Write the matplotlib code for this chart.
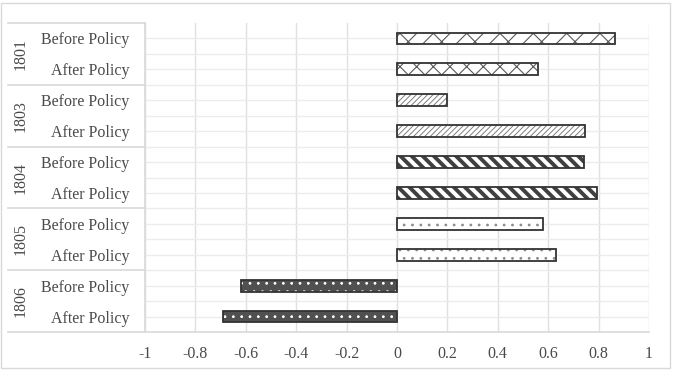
import matplotlib
matplotlib.use('Agg')
import matplotlib.pyplot as plt
from matplotlib.lines import Line2D
from matplotlib.patches import Rectangle

years = ['1801', '1803', '1804', '1805', '1806']
periods = ['Before Policy', 'After Policy']
before_vals = [0.867, 0.20, 0.741, 0.578, -0.621]
after_vals = [0.56, 0.746, 0.795, 0.63, -0.689]
x_ticks = [-1, -0.8, -0.6, -0.4, -0.2, 0, 0.2, 0.4, 0.6, 0.8, 1]
x_labels = ['-1', '-0.8', '-0.6', '-0.4', '-0.2', '0', '0.2', '0.4', '0.6', '0.8', '1']

# fill, hatch colour, hatch, hatch width per year
styles = [
    ('white', '#595959', '//\\', 0.8),
    ('white', '#7f7f7f', '//////', 0.7),
    ('white', '#404040', '\\\\\\', 2.8),
    ('white', '#8c8c8c', '..', 0.8),
    ('#505050', 'white', '..', 0.8),
]
after_hatch = ['xx', None, None, None, None]

plt.rcParams['font.family'] = ['Liberation Serif', 'DejaVu Serif']
W, H = 674, 370
fig = plt.figure(figsize=(W / 100, H / 100), dpi=100)
left, right, top, bottom = 145, 649, 23, 332
ax = fig.add_axes([left / W, 1 - bottom / H, (right - left) / W, (bottom - top) / H])

ax.set_xlim(-1, 1)
ax.set_ylim(0, 10)
for s in ax.spines.values():
    s.set_visible(False)

for v in x_ticks:
    ax.axvline(v, color='#e0e0e0', lw=1, zorder=0)
for k in range(1, 20):
    ax.axhline(k * 0.5, color='#ececec', lw=1, zorder=0)

bar_h = 0.38
ypos = []
ylab = []
for i, yr in enumerate(years):
    yb = 10 - (2 * i) - 0.5
    ya = yb - 1
    fill, hcol, hatch, hw = styles[i]
    for y, v, h in [(yb, before_vals[i], hatch), (ya, after_vals[i], after_hatch[i] or hatch)]:
        b = ax.barh(y, v, height=bar_h, color=fill, edgecolor=hcol, hatch=h, lw=0, zorder=2)
        for p in b:
            try:
                p.set_hatch_linewidth(hw)
            except AttributeError:
                pass
        ax.barh(y, v, height=bar_h, fill=False, edgecolor='#333333', lw=1.3, zorder=3)
    ypos += [yb, ya]
    ylab += periods
    # year label
    fig.text(21 / W, 1 - (top + (2 * i + 1) * (bottom - top) / 10) / H, yr,
             rotation=90, ha='center', va='center', fontsize=11.5, color='#4a4a4a')

ax.set_yticks(ypos)
ax.set_yticklabels(ylab, fontsize=11.5, color='#4a4a4a')
ax.set_xticks(x_ticks)
ax.set_xticklabels(x_labels, fontsize=11.5, color='#4a4a4a')
ax.tick_params(axis='both', length=0)
ax.tick_params(axis='y', pad=11)
ax.tick_params(axis='x', pad=10)

# label-area table lines
lc = '#d9d9d9'
for k in range(6):
    yy = 1 - (top + k * (bottom - top) / 5) / H
    x1 = right if k == 5 else left
    fig.add_artist(Line2D([8 / W, x1 / W], [yy, yy], color=lc, lw=1.2))
fig.add_artist(Line2D([left / W, left / W], [1 - top / H, 1 - bottom / H], color=lc, lw=1.2))

# outer border
fig.add_artist(Rectangle((1 / W, 2 / H), 669 / W, 365 / H, fill=False, edgecolor='#d9d9d9', lw=1))

fig.savefig('out.png', dpi=100)
